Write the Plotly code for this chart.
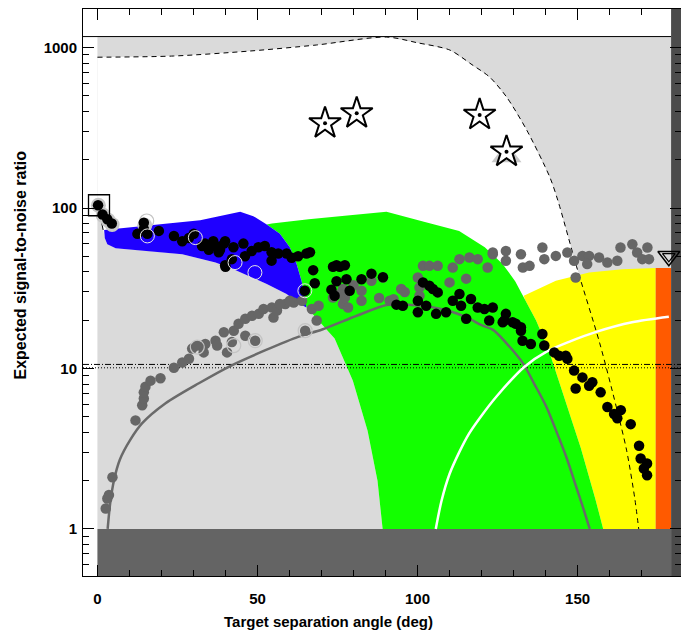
import plotly.graph_objects as go

# ---------------- data (deg, SNR) ----------------
dash_deg = [0, 23.7, 47.7, 68.5, 90.3, 100, 110.1, 117, 122.5, 127.8, 134.1, 141.3, 143.8, 149.7, 156.9, 162.1, 165.3, 167.8, 169.1]
dash_snr = [870, 885, 951, 1037, 1162, 1070, 964, 782, 655, 492, 306, 156, 112, 43, 14.4, 5.75, 3.1, 1.58, 1]

blue_top_deg = [2.1, 12, 22, 32.1, 44.6, 48.7, 52.9, 57, 60.1, 62.2, 63.8, 65.3]
blue_top_snr = [73, 76, 80, 84, 94.8, 89, 79, 69, 57, 45, 35, 24]
blue_bot_deg = [63.2, 59.1, 52.9, 42.5, 36.9, 26.5, 16.1, 5.7, 3.1, 2.3]
blue_bot_snr = [25.2, 29.1, 33.6, 41.6, 45.7, 51.5, 54, 56.2, 59.5, 65]

green_top_deg = [54.5, 66, 78.9, 90.3, 102, 113, 121, 126.5, 130.5, 133.5, 137, 141, 146, 151, 155.5, 158]
green_top_snr = [80, 85, 90, 94.8, 82, 72, 57, 45, 35, 27, 20, 13, 6.5, 3.2, 1.55, 1]
green_left_deg = [89.1, 87.5, 84.4, 79.8, 74.1, 70.1, 65.4]
green_left_snr = [1, 2.0, 4.1, 8.4, 15.4, 19, 24]

yellow_top_deg = [133.2, 143.2, 153.6, 164, 174.4]
yellow_top_snr = [28.4, 35.2, 39.6, 41.6, 42.3]
orange_deg = [174.4, 179.2]
orange_top = 42.3
strip_deg = 179.2
top_band_snr = 1170

edge_deg = [0.5, 1.2, 1.8]
edge_snr = [97, 84, 73]

gline_deg = [3.2, 4.0, 5.2, 7.0, 10.3, 14, 21.3, 31.7, 42.1, 52.5, 62.9, 70.2, 81, 90.3, 97, 104, 110, 116, 120, 123.6, 128, 132.9, 136.5, 140.2, 143.5, 146.5, 149.3, 151.6, 153.8]
gline_snr = [1.0, 1.45, 2.02, 2.7, 3.6, 4.56, 6.07, 8.09, 10.5, 13.0, 15.8, 17.5, 21.3, 24.9, 25.0, 24.2, 22.8, 20.5, 18.6, 17.4, 14.2, 10.8, 8.0, 5.8, 4.0, 2.8, 1.9, 1.38, 1.0]

wline_deg = [105.7, 107.5, 110, 113, 116, 119.4, 124.6, 133.5, 140.2, 147.5, 155.8, 167, 178.5]
wline_snr = [1.0, 1.5, 2.2, 3.0, 3.9, 4.9, 6.67, 10.3, 12.7, 14.7, 16.9, 19.4, 21]

hline_dashdot = 10.6
hline_dot = 10.1

black_deg = [0.2, 1.6, 3.1, 4.5, 14.5, 14.5, 12.5, 15.6, 19.2, 23.9, 26.5, 28.6, 30.1, 32.7, 34.8, 36.9, 37.9, 39.5, 40.0,
             33.6, 36.2, 38.3, 39.9, 39.9, 42.5, 42.0, 45.6, 46.1, 48.2, 50.3, 52.3, 54.4, 54.4, 56.5, 59.1, 60.7, 62.7,
             65.3, 66.4, 64.8, 67.4, 67.9, 73.1, 74.7, 77.3, 74.7, 77.8, 73.6, 75.7, 78.8, 82.5, 85.6, 89.2, 74.1,
             93.4, 95.4, 100.1, 100.1, 101.7, 103.7, 104.8, 106.3, 102.7, 105.8, 108.9, 111.0, 113.1, 113.6, 116.7,
             118.8, 120.9, 123.5, 115.2, 122.4, 126.6, 127.6, 127.1, 129.7, 130.7, 132.3, 139.0, 132.8, 135.4, 132.3,
             139.6, 142.7, 144.2, 146.3, 146.8, 148.9, 151.5, 149.4, 153.6, 154.6, 157.2, 159.3, 161.4, 163.5, 162.4,
             166.6, 169.2, 169.7, 171.7, 170.7, 171.7]
black_snr = [104, 91, 85, 80, 81, 74, 69, 69, 72, 67, 62, 65, 69, 58, 55, 58, 53, 60, 43,
             60, 62, 55, 62, 44, 57, 48, 60, 50, 54, 57, 58, 53, 47, 52, 52, 49, 50,
             52, 53, 30.5, 41, 34, 31, 44, 44, 35, 36, 43, 43, 30.5, 36, 39, 37, 28.4,
             25, 24.6, 26.4, 22.4, 34.4, 32.8, 31.3, 29.8, 24.6, 21.9, 22.4, 26.4, 29.1, 24.6, 27.1,
             24, 23.5, 24, 20.4, 19.9, 19.4, 21.9, 19.9, 19.4, 19.0, 18.1, 16.4, 14.9, 14.2, 17.2,
             13.9, 12.6, 12.0, 12.0, 11.5, 9.7, 8.8, 7.5, 7.8, 8.2, 7.1, 5.75, 5.2, 5.5, 4.9,
             4.5, 3.3, 2.75, 2.56, 2.38, 2.16]

gray_deg = [2.6, 3.1, 3.6, 4.7, 11.9, 14.0, 14.5, 14.5, 15.0, 16.6, 19.7, 23.9, 26.5, 28.6, 29.6, 31.2, 33.7, 33.2,
            36.9, 37.4, 39.5, 40.5, 42.0, 42.6, 44.1, 46.2, 46.2, 49.3, 48.3, 50.4, 51.9, 54.5, 55.0, 56.1, 58.7,
            61.3, 63.9, 64.9, 67.0, 68.5, 69.1, 57.0, 60.1, 73.6, 76.7, 76.7, 77.3, 78.3, 82.5, 82.5, 85.6, 89.2,
            91.3, 92.5, 94.9, 100.1, 100.6, 100.6, 101.7, 103.7, 106.3, 110.0, 111.0, 113.1, 115.2, 116.2, 118.8,
            121.9, 123.5, 127.6, 123.5, 127.6, 132.3, 132.9, 135.0, 139.0, 139.6, 143.2, 146.8, 148.9, 149.4, 151.5,
            153.6, 156.7, 153.0, 159.3, 162.4, 163.4, 167.1, 168.6, 170.2, 171.8, 172.3, 75.7, 80.0, 88.0, 96.0]
gray_snr = [1.34, 1.55, 1.63, 2.1, 4.75, 5.9, 6.5, 7.1, 7.7, 8.4, 8.7, 10.1, 10.9, 11.5, 13.3, 13.9, 14.2, 12.6,
            14.9, 13.9, 16.8, 12.6, 14.6, 17.2, 19.0, 20.4, 16.0, 14.9, 21.3, 21.9, 23.5, 24.0, 20.8, 23.0, 25.2,
            25.8, 26.4, 17.2, 23.5, 19.9, 24.6, 25.2, 26.4, 27.7, 31.3, 25.2, 27.7, 24.0, 30.5, 26.4, 35.2, 36.9,
            26.4, 27.0, 31.3, 36.9, 28.4, 32.0, 43.6, 43.6, 43.6, 34.4, 42.6, 48.0, 36.3, 49.1, 48.0,
            42.6, 52.8, 54.0, 51.5, 46.9, 51.5, 42.6, 43.6, 56.7, 48.0, 50.3, 52.8, 46.9, 36.9, 50.3,
            50.3, 49.1, 44.7, 45.7, 46.9, 56.7, 59.5, 52.8, 48.0, 56.7, 48.0, 29.0, 33.0, 27.5, 30.0]

halo_deg = [0.3, 1.8, 3.3, 4.6, 14.8]
halo_snr = [104, 90, 84, 79, 78]
ring_white_deg = [15.6, 30.6, 43.0, 49.2, 64.8]
ring_white_snr = [67, 65.4, 45.7, 39.6, 30.5]
ring_gray_deg = [15.4, 31.2, 42.6, 49.3, 64.9]
ring_gray_snr = [83, 13.6, 13.9, 14.9, 17.2]

star_deg = [71.1, 81.0, 119.4, 127.8]
star_snr = [337, 389, 380, 224]
tri_up_deg = [127.8]
tri_up_snr = [212]
square_deg = [0.5]
square_snr = [104]
tri_down_deg = [178.5]
tri_down_snr = [50]

x_ticks = [0, 50, 100, 150]
y_ticks = [1, 10, 100, 1000]

# ---------------- figure ----------------
XMIN, XMAX = -4.5, 182.3
YLOW, YHIGH = 0.3, 3000

fig = go.Figure()

def poly(xs, ys, color):
    fig.add_trace(go.Scatter(x=xs, y=ys, mode="lines", fill="toself", fillcolor=color,
                             line=dict(width=0, color=color), hoverinfo="skip"))

LG = "#dadada"
poly([0, strip_deg, strip_deg, 0], [1, 1, top_band_snr, top_band_snr], LG)
wx = dash_deg + [green_left_deg[0]] + green_left_deg + blue_bot_deg + [1.2, 0.5, 0]
wy = dash_snr + [1] + green_left_snr + blue_bot_snr + [84, 97, 97]
poly(wx, wy, "white")
gr_deg = green_top_deg[9:]
gr_snr = green_top_snr[9:]
yx = yellow_top_deg + [orange_deg[0], gr_deg[-1]] + gr_deg[::-1]
yy = yellow_top_snr + [1, 1] + gr_snr[::-1]
poly(yx, yy, "#ffff00")
gx = green_top_deg + green_left_deg + blue_top_deg[::-1][:6]
gy = green_top_snr + green_left_snr + blue_top_snr[::-1][:6]
poly(gx, gy, "#13ff00")
poly(blue_top_deg + blue_bot_deg, blue_top_snr + blue_bot_snr, "#1f00ff")
poly([orange_deg[0], orange_deg[1], orange_deg[1], orange_deg[0]], [1, 1, orange_top, orange_top], "#ff5a00")
poly([0, strip_deg, strip_deg, 0], [YLOW, YLOW, 1, 1], "#646464")
poly([strip_deg, XMAX + 3, XMAX + 3, strip_deg], [YLOW, YLOW, YHIGH, YHIGH], "#4b4b4b")

def line(xs, ys, color, width, dash="solid", shape="linear"):
    fig.add_trace(go.Scatter(x=xs, y=ys, mode="lines",
                             line=dict(color=color, width=width, dash=dash, shape=shape, smoothing=0.8),
                             hoverinfo="skip"))

line([XMIN, strip_deg], [top_band_snr, top_band_snr], "black", 1)
line([XMIN, XMAX], [hline_dashdot, hline_dashdot], "black", 1, "6px,2px,1px,2px")
line([XMIN, XMAX], [hline_dot, hline_dot], "black", 1, "1px,2px")
line(dash_deg, dash_snr, "black", 1, "5px,4px", "spline")
line(edge_deg, edge_snr, "black", 1)
line(gline_deg, gline_snr, "#6a6a6a", 2.5, "solid", "spline")
line(wline_deg, wline_snr, "white", 2.5, "solid", "spline")

def pts(xs, ys, **m):
    fig.add_trace(go.Scatter(x=xs, y=ys, mode="markers", marker=m, hoverinfo="skip"))

pts(halo_deg, halo_snr, size=15, color="#c8c8c8", line=dict(width=0))
pts(gray_deg, gray_snr, size=10.5, color="#666666", line=dict(width=0))
pts(ring_gray_deg, ring_gray_snr, size=14, symbol="circle-open", color="#c4c4c4", line=dict(width=1.2, color="#c4c4c4"))
pts(black_deg, black_snr, size=10.5, color="black", line=dict(width=0))
pts(ring_white_deg, ring_white_snr, size=14, symbol="circle-open", color="#e6e6e6", line=dict(width=1, color="#e6e6e6"))
pts(tri_up_deg, tri_up_snr, size=26, symbol="triangle-up", color="#c8c8c8", line=dict(width=0))
pts(star_deg, star_snr, size=24, symbol="star", color="white", line=dict(width=2, color="black"))
pts(star_deg, star_snr, size=4, color="black", line=dict(width=0))
pts(square_deg, square_snr, size=21, symbol="square-open", color="black", line=dict(width=1.3, color="black"))
pts(tri_down_deg, tri_down_snr, size=19, symbol="triangle-down-open", color="black", line=dict(width=1.5, color="black"))
pts(tri_down_deg, tri_down_snr, size=11, symbol="triangle-down-open", color="black", line=dict(width=1.2, color="black"))

tickfont = dict(family="Liberation Sans, Arial, sans-serif", size=15, color="black", weight="bold")

fig.update_layout(
    width=681, height=635,
    margin=dict(l=83, r=0, t=9, b=59),
    plot_bgcolor="white", paper_bgcolor="white",
    showlegend=False,
    xaxis=dict(range=[XMIN, XMAX], showgrid=False, zeroline=False, showline=True, linecolor="black",
               linewidth=1, mirror="ticks", ticks="inside", ticklen=11, tickcolor="black", tickwidth=1,
               tickvals=x_ticks, ticktext=[str(v) for v in x_ticks], tickfont=tickfont, ticklabelstandoff=9,
               minor=dict(tickvals=[v for v in range(10, 180, 10) if v % 50 != 0], ticks="inside", ticklen=6,
                          tickcolor="black", tickwidth=1)),
    yaxis=dict(type="log", range=[-0.293, 3.240], showgrid=False, zeroline=False, showline=True,
               linecolor="black", linewidth=1, mirror="ticks", ticks="inside", ticklen=11, tickcolor="black",
               tickwidth=1, tickvals=y_ticks, ticktext=[str(v) for v in y_ticks], tickfont=tickfont,
               ticklabelstandoff=2,
               minor=dict(tickvals=[m * 10 ** e for e in range(-1, 4) for m in range(2, 10)], ticks="inside",
                          ticklen=6, tickcolor="black", tickwidth=1)),
    annotations=[
        dict(text="<b>Target separation angle (deg)</b>", xref="paper", yref="paper", x=0.411, y=-0.081,
             showarrow=False, xanchor="center", yanchor="middle",
             font=dict(family="Liberation Sans, Arial, sans-serif", size=15, color="black")),
        dict(text="<b>Expected signal-to-noise ratio</b>", xref="paper", yref="paper", x=-0.105, y=0.548,
             showarrow=False, xanchor="center", yanchor="middle", textangle=-90,
             font=dict(family="Liberation Sans, Arial, sans-serif", size=16, color="black")),
    ],
)

fig.write_html("out.html")
